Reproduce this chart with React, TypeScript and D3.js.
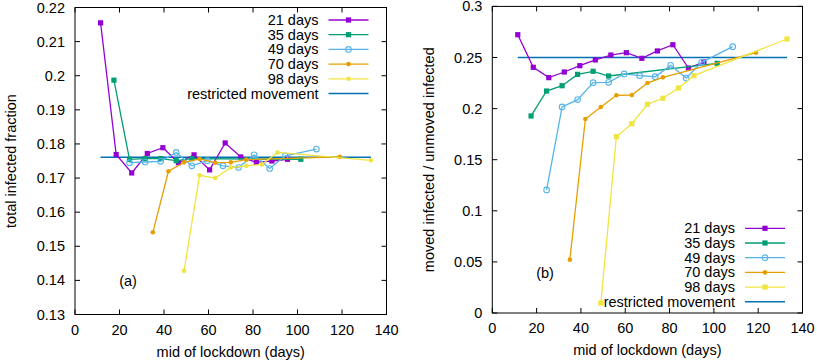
import React from "react";
import * as d3 from "d3";

// x positions (mid of lockdown, days) for each lockdown length
const days21 = [11.5, 18.5, 25.5, 32.5, 39.5, 46.5, 53.5, 60.5, 67.5, 74.5, 81.5, 88.5, 95.5];
const days35 = [17.5, 24.5, 31.5, 38.5, 45.5, 52.5, 101.5];
const days49 = [24.5, 31.5, 38.5, 45.5, 52.5, 59.5, 66.5, 73.5, 80.5, 87.5, 94.5, 108.5];
const days70 = [35, 42, 49, 56, 63, 70, 77, 119];
const days98 = [49, 56, 63, 70, 77, 84, 91, 133];

// panel (a): total infected fraction
const frac21 = [0.2155, 0.1769, 0.1715, 0.1772, 0.1789, 0.1745, 0.1768, 0.1724, 0.1803, 0.1762, 0.1746, 0.175, 0.1755];
const frac35 = [0.1987, 0.1755, 0.1757, 0.1757, 0.1751, 0.1757, 0.1755];
const frac49 = [0.1745, 0.1747, 0.1749, 0.1775, 0.1736, 0.1751, 0.1736, 0.1731, 0.1768, 0.1728, 0.1765, 0.1785];
const frac70 = [0.1541, 0.172, 0.1746, 0.1756, 0.1745, 0.1746, 0.1754, 0.1762];
const frac98 = [0.1428, 0.1708, 0.17, 0.1731, 0.1736, 0.174, 0.1775, 0.1752];
const fracRestricted = 0.1761;

// panel (b): moved infected / unmoved infected
const ratio21 = [0.2723, 0.2404, 0.2303, 0.2358, 0.242, 0.2476, 0.2524, 0.2547, 0.2492, 0.2564, 0.2625, 0.2397, 0.2456];
const ratio35 = [0.1928, 0.2172, 0.2224, 0.2335, 0.2365, 0.2319, 0.2443];
const ratio49 = [0.1204, 0.2016, 0.2088, 0.2254, 0.2257, 0.2339, 0.2322, 0.2312, 0.2423, 0.2299, 0.2453, 0.2606];
const ratio70 = [0.0522, 0.1898, 0.2016, 0.213, 0.2133, 0.225, 0.2306, 0.2547];
const ratio98 = [0.0098, 0.1725, 0.1852, 0.2042, 0.2101, 0.2202, 0.2322, 0.2681];
const ratioRestricted = 0.25;

const restrictedSpan = [11.5, 133];

const seriesNames = ["21 days", "35 days", "49 days", "70 days", "98 days"];
const restrictedName = "restricted movement";
const xTicks = [0, 20, 40, 60, 80, 100, 120, 140];
const yTicksA = [0.13, 0.14, 0.15, 0.16, 0.17, 0.18, 0.19, 0.2, 0.21, 0.22];
const yTicksB = [0, 0.05, 0.1, 0.15, 0.2, 0.25, 0.3];

const colors = ["#9400d3", "#009e73", "#56b4e9", "#e69f00", "#f0e442"];
const restrictedColor = "#0072b2";
const FONT = "'Liberation Sans', Arial, Helvetica, sans-serif";
const FS = 14.5;

type Marker = "square" | "circle" | "ring";

const Mark = ({ x, y, type, color }: { x: number; y: number; type: Marker; color: string }) => {
  if (type === "square") return <rect x={x - 2.6} y={y - 2.6} width={5.2} height={5.2} fill={color} />;
  if (type === "circle") return <circle cx={x} cy={y} r={2.3} fill={color} />;
  return <circle cx={x} cy={y} r={2.8} fill="none" stroke={color} strokeWidth={1.1} />;
};

type PanelProps = {
  left: number;
  right: number;
  top: number;
  bottom: number;
  yDomain: [number, number];
  yTicks: number[];
  values: number[][];
  markers: Marker[];
  restricted: number;
  ylabel: string;
  ylabelX: number;
  tag: string;
  tagX: number;
  tagY: number;
  legendRight: number;
  legendTop: number;
};

const Panel = (p: PanelProps) => {
  const x = d3.scaleLinear().domain([0, 140]).range([p.left, p.right]);
  const y = d3.scaleLinear().domain(p.yDomain).range([p.bottom, p.top]);
  const fmt = d3.format(".2~f");
  const allDays = [days21, days35, days49, days70, days98];
  const line = d3.line<[number, number]>().x(d => x(d[0])).y(d => y(d[1]));
  const tick = 5;
  const rowH = 14.7;
  const keyX0 = p.legendRight - 40;
  const keyX1 = p.legendRight;
  const textX = keyX0 - 10;

  return (
    <g fontFamily={FONT} fontSize={FS} fill="#000">
      {/* ticks, mirrored inward */}
      {xTicks.map(t => (
        <g key={"xt" + t}>
          <line x1={x(t)} x2={x(t)} y1={p.bottom} y2={p.bottom - tick} stroke="#000" />
          <line x1={x(t)} x2={x(t)} y1={p.top} y2={p.top + tick} stroke="#000" />
          <text x={x(t)} y={p.bottom + 20} textAnchor="middle">{t}</text>
        </g>
      ))}
      {p.yTicks.map(t => (
        <g key={"yt" + t}>
          <line x1={p.left} x2={p.left + tick} y1={y(t)} y2={y(t)} stroke="#000" />
          <line x1={p.right} x2={p.right - tick} y1={y(t)} y2={y(t)} stroke="#000" />
          <text x={p.left - 10} y={y(t) + 5} textAnchor="end">{fmt(t)}</text>
        </g>
      ))}
      <rect x={p.left} y={p.top} width={p.right - p.left} height={p.bottom - p.top} fill="none" stroke="#000" />

      <text x={(p.left + p.right) / 2} y={p.bottom + 42} textAnchor="middle">mid of lockdown (days)</text>
      <text
        transform={`translate(${p.ylabelX},${(p.top + p.bottom) / 2}) rotate(-90)`}
        textAnchor="middle"
        dominantBaseline="central"
      >
        {p.ylabel}
      </text>
      <text x={p.tagX} y={p.tagY} textAnchor="middle" dominantBaseline="central">{p.tag}</text>

      {/* restricted movement reference */}
      <line
        x1={x(restrictedSpan[0])}
        x2={x(restrictedSpan[1])}
        y1={y(p.restricted)}
        y2={y(p.restricted)}
        stroke={restrictedColor}
        strokeWidth={1.6}
      />

      {p.values.map((vals, i) => {
        const pts = vals.map((v, j) => [allDays[i][j], v] as [number, number]);
        return (
          <g key={"s" + i}>
            <path d={line(pts) || ""} fill="none" stroke={colors[i]} strokeWidth={1.3} />
            {pts.map((d, j) => (
              <Mark key={j} x={x(d[0])} y={y(d[1])} type={p.markers[i]} color={colors[i]} />
            ))}
          </g>
        );
      })}

      {/* legend */}
      {seriesNames.map((name, i) => {
        const ly = p.legendTop + i * rowH;
        return (
          <g key={"lg" + i}>
            <text x={textX} y={ly} textAnchor="end" dominantBaseline="central">{name}</text>
            <line x1={keyX0} x2={keyX1} y1={ly} y2={ly} stroke={colors[i]} strokeWidth={1.3} />
            <Mark x={(keyX0 + keyX1) / 2} y={ly} type={p.markers[i]} color={colors[i]} />
          </g>
        );
      })}
      <text x={textX} y={p.legendTop + 5 * rowH} textAnchor="end" dominantBaseline="central">{restrictedName}</text>
      <line
        x1={keyX0}
        x2={keyX1}
        y1={p.legendTop + 5 * rowH}
        y2={p.legendTop + 5 * rowH}
        stroke={restrictedColor}
        strokeWidth={1.6}
      />
    </g>
  );
};

export default function App() {
  return (
    <svg width={817} height={360} style={{ position: "absolute", left: 0, top: 0, background: "#fff" }}>
      <Panel
        left={75}
        right={386.5}
        top={7.5}
        bottom={314.5}
        yDomain={[0.13, 0.22]}
        yTicks={yTicksA}
        values={[frac21, frac35, frac49, frac70, frac98]}
        markers={["square", "square", "ring", "circle", "circle"]}
        restricted={fracRestricted}
        ylabel="total infected fraction"
        ylabelX={11}
        tag="(a)"
        tagX={128}
        tagY={281}
        legendRight={368.5}
        legendTop={20}
      />
      <Panel
        left={492.3}
        right={802.5}
        top={6.4}
        bottom={313}
        yDomain={[0, 0.3]}
        yTicks={yTicksB}
        values={[ratio21, ratio35, ratio49, ratio70, ratio98]}
        markers={["square", "square", "ring", "circle", "square"]}
        restricted={ratioRestricted}
        ylabel="moved infected / unmoved infected"
        ylabelX={429}
        tag="(b)"
        tagX={545}
        tagY={273}
        legendRight={785}
        legendTop={228.3}
      />
    </svg>
  );
}
